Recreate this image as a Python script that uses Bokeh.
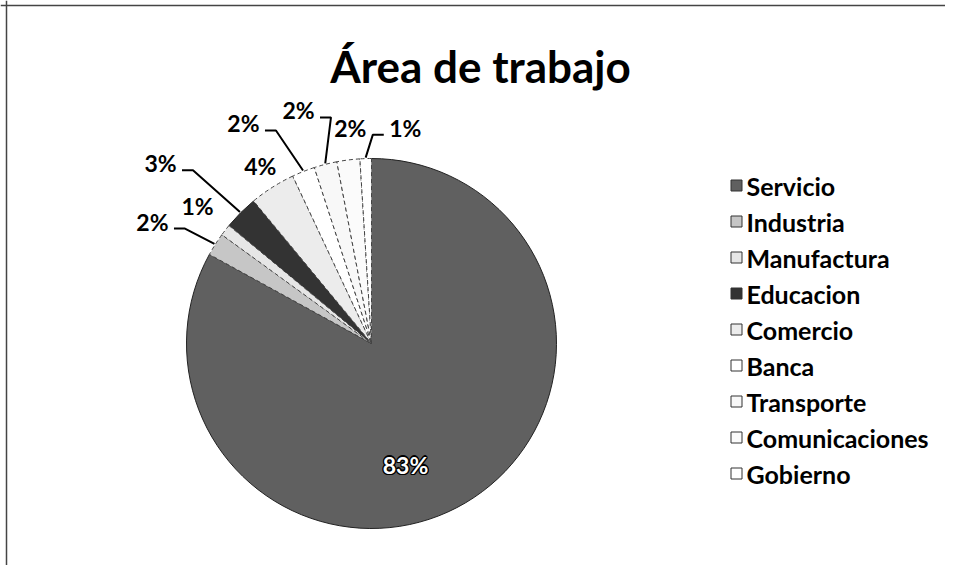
import math
from bokeh.plotting import figure
from bokeh.models import Range1d, ColumnDataSource, Span
from bokeh.core.properties import value
from bokeh.embed import file_html
from bokeh.resources import INLINE

# ---- data ----
categories = ["Servicio", "Industria", "Manufactura", "Educacion", "Comercio",
              "Banca", "Transporte", "Comunicaciones", "Gobierno"]
percents = [83, 2, 1, 3, 4, 2, 2, 2, 1]
title_text = "Área de trabajo"

# ---- styles ----
fills = ["#606060", "#c6c6c6", "#e6e6e6", "#333333", "#ececec",
         "#ffffff", "#f8f8f8", "#fbfbfb", "#ffffff"]
dashed = [False, True, True, False, True, True, True, True, True]
# label placement: (angle in degrees, radius factor)
label_angle = [-74.3, 150.9, 141.6, 139.5, 122.0, 120.2, 107.4, 95.6, 81.1]
label_k = [0.68, 1.355, 1.20, 1.50, 1.134, 1.376, 1.32, 1.173, 1.18]
leader = [False, True, False, True, False, True, True, False, True]

W, H = 945, 565
CX, CY, R = 371, 222, 185
FONT = "Lato"
LABEL_SIZE = "23px"

p = figure(width=W, height=H, output_backend="svg", toolbar_location=None,
           x_range=Range1d(0, W), y_range=Range1d(0, H), min_border=0)
p.axis.visible = False
p.grid.visible = False
p.outline_line_color = None
p.background_fill_color = "white"

# border (left and top visible)
p.add_layout(Span(location=6, dimension="height", line_color="#444", line_width=1.5))
p.add_layout(Span(location=H - 5, dimension="width", line_color="#444", line_width=1.5))

# ---- wedges ----
total = float(sum(percents))
cum = 0.0
starts, ends, mids = [], [], []
for v in percents:
    c0 = cum / total
    cum += v
    c1 = cum / total
    starts.append(math.pi / 2 - 2 * math.pi * c1)
    ends.append(math.pi / 2 - 2 * math.pi * c0)
    mids.append(math.pi / 2 - 2 * math.pi * (c0 + c1) / 2)

def subset(flag):
    idx = [i for i in range(len(categories)) if dashed[i] == flag]
    return ColumnDataSource(dict(
        x=[CX] * len(idx), y=[CY] * len(idx),
        start=[starts[i] for i in idx], end=[ends[i] for i in idx],
        fill=[fills[i] for i in idx], name=[categories[i] for i in idx]))

p.wedge(x="x", y="y", radius=R, start_angle="start", end_angle="end",
        fill_color="fill", line_color="#222222", line_width=1,
        source=subset(False))
p.wedge(x="x", y="y", radius=R, start_angle="start", end_angle="end",
        fill_color="fill", line_color="#444444", line_width=1, line_dash="4 3",
        source=subset(True))

# ---- labels ----
lab_x, lab_y, lab_t = [], [], []
half_w = 15.5
for i, v in enumerate(percents):
    ang = math.radians(label_angle[i])
    lx = CX + R * label_k[i] * math.cos(ang)
    ly = CY + R * label_k[i] * math.sin(ang)
    txt = f"{v}%"
    if i == 0:
        for dx, dy in [(-1.2, 0), (1.2, 0), (0, -1.2), (0, 1.2), (-1, -1), (1, 1), (-1, 1), (1, -1)]:
            p.text(x=[lx + dx], y=[ly + dy], text=[txt], text_font=value(FONT),
                   text_font_style="bold", text_font_size=LABEL_SIZE, text_color="black",
                   text_align="center", text_baseline="middle")
        p.text(x=[lx], y=[ly], text=[txt], text_font=value(FONT),
               text_font_style="bold", text_font_size=LABEL_SIZE, text_color="white",
               text_align="center", text_baseline="middle")
        continue
    lab_x.append(lx); lab_y.append(ly); lab_t.append(txt)
    if leader[i]:
        ex = CX + (R + 1) * math.cos(mids[i])
        ey = CY + (R + 1) * math.sin(mids[i])
        if lx < ex - 20:
            sx = lx + half_w + 6
            bx = sx + 11
        else:
            sx = lx - half_w - 6
            bx = sx - 11
        sy = ly - 7
        p.line(x=[sx, bx, ex], y=[sy, sy, ey], line_color="black", line_width=2)

p.text(x=lab_x, y=lab_y, text=lab_t, text_font=value(FONT), text_font_style="bold",
       text_font_size=LABEL_SIZE, text_color="black", text_align="center",
       text_baseline="middle")

# ---- legend ----
LX, LY0, LDY = 736, 380, 36
leg_y = [LY0 - LDY * i for i in range(len(categories))]
p.rect(x=[LX] * len(categories), y=leg_y, width=11, height=11,
       width_units="screen", height_units="screen",
       fill_color=fills, line_color="#333333", line_width=1)
p.text(x=[LX + 10] * len(categories), y=leg_y, text=categories,
       text_font=value(FONT), text_font_style="bold", text_font_size="25px",
       text_color="black", text_align="left", text_baseline="middle")

# ---- title ----
p.text(x=[480], y=[500], text=[title_text], text_font=value(FONT),
       text_font_style="bold", text_font_size="44px", text_color="black",
       text_align="center", text_baseline="middle")

open("out.html", "w").write(file_html(p, INLINE))
